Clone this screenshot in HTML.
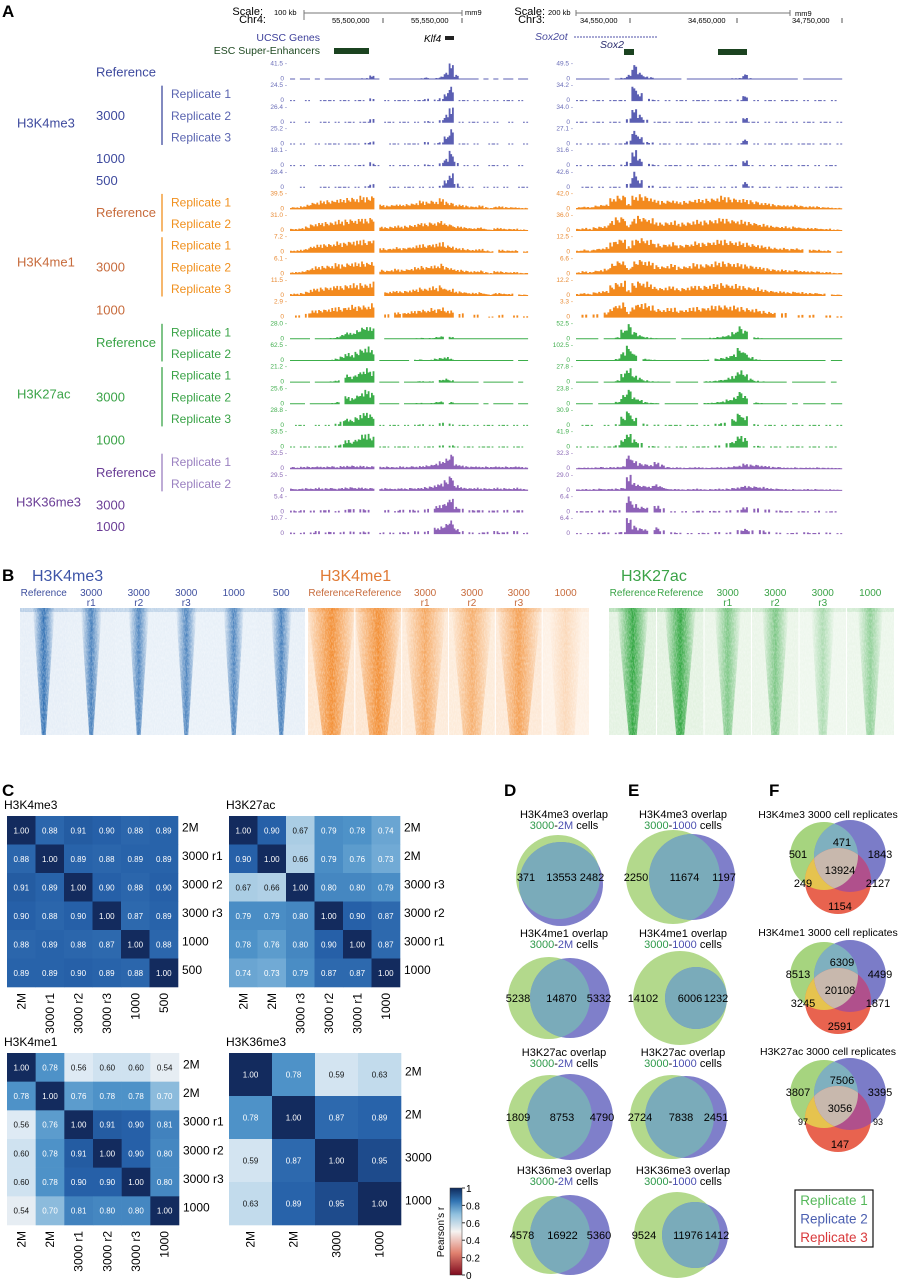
<!DOCTYPE html>
<html><head><meta charset="utf-8">
<style>
html,body{margin:0;padding:0;background:#fff;}
svg{display:block;font-family:"Liberation Sans",Arial,sans-serif;}
</style></head>
<body>
<svg id="fig" width="907" height="1280" viewBox="0 0 907 1280" xmlns="http://www.w3.org/2000/svg">
<defs>
<linearGradient id="cbar" x1="0" y1="1" x2="0" y2="0">
<stop offset="0" stop-color="#7f0a1e"/><stop offset="0.25" stop-color="#e0806e"/><stop offset="0.5" stop-color="#f6f3f1"/><stop offset="0.7" stop-color="#8fc0de"/><stop offset="0.85" stop-color="#3174b3"/><stop offset="1" stop-color="#0f2a5c"/>
</linearGradient>
<filter id="grain" x="0" y="0" width="100%" height="100%">
<feTurbulence type="fractalNoise" baseFrequency="0.9 0.35" numOctaves="2" seed="3" result="n"/>
<feColorMatrix type="matrix" values="0 0 0 0 1  0 0 0 0 1  0 0 0 0 1  0 0 0 -1.6 1.05" in="n"/>
</filter>
</defs>
<g id="static">
<text x="2" y="17" font-size="17" font-weight="bold">A</text>
<text x="2" y="581" font-size="17" font-weight="bold">B</text>
<text x="2" y="796" font-size="17" font-weight="bold">C</text>
<text x="504" y="796" font-size="17" font-weight="bold">D</text>
<text x="628" y="796" font-size="17" font-weight="bold">E</text>
<text x="769" y="796" font-size="17" font-weight="bold">F</text>
<text x="263" y="15" font-size="11" text-anchor="end">Scale:</text>
<text x="266" y="23" font-size="11" text-anchor="end">Chr4:</text>
<text x="274" y="15" font-size="7.5">100 kb</text>
<line x1="304" y1="13" x2="462" y2="13" stroke="#777" stroke-width="1"/>
<line x1="304" y1="10" x2="304" y2="20" stroke="#777"/><line x1="462" y1="10" x2="462" y2="16" stroke="#777"/>
<text x="465" y="15" font-size="7.5">mm9</text>
<text x="332" y="23" font-size="7.5">55,500,000</text>
<line x1="383" y1="18" x2="383" y2="23" stroke="#555"/>
<text x="411" y="23" font-size="7.5">55,550,000</text>
<line x1="462" y1="18" x2="462" y2="23" stroke="#555"/>
<text x="320" y="41" font-size="10.5" fill="#3d3f9a" text-anchor="end">UCSC Genes</text>
<text x="320" y="54" font-size="10.5" fill="#1f4a22" text-anchor="end">ESC Super-Enhancers</text>
<rect x="334" y="48" width="35" height="6" fill="#1b4320"/>
<text x="424" y="42" font-size="10" font-style="italic">Klf4</text>
<rect x="445" y="36" width="9" height="4" fill="#222"/>
<text x="545" y="15" font-size="11" text-anchor="end">Scale:</text>
<text x="545" y="23" font-size="11" text-anchor="end">Chr3:</text>
<text x="548" y="15" font-size="7.5">200 kb</text>
<line x1="576" y1="13" x2="790" y2="13" stroke="#777"/>
<line x1="576" y1="10" x2="576" y2="16" stroke="#777"/><line x1="790" y1="10" x2="790" y2="16" stroke="#777"/>
<text x="795" y="16" font-size="7.5">mm9</text>
<text x="580" y="23" font-size="7.5">34,550,000</text>
<line x1="630" y1="18" x2="630" y2="23" stroke="#555"/>
<text x="688" y="23" font-size="7.5">34,650,000</text>
<line x1="737" y1="18" x2="737" y2="23" stroke="#555"/>
<text x="792" y="23" font-size="7.5">34,750,000</text>
<line x1="842" y1="18" x2="842" y2="23" stroke="#555"/>
<text x="535" y="40" font-size="10.5" font-style="italic" fill="#4a4c9e">Sox2ot</text>
<line x1="574" y1="37" x2="658" y2="37" stroke="#8a8cc6" stroke-width="1.5" stroke-dasharray="2,1"/>
<text x="600" y="48" font-size="10.5" font-style="italic" fill="#2a2c6e">Sox2</text>
<rect x="624" y="49" width="10" height="6" fill="#1b4320"/>
<rect x="718" y="49" width="29" height="6" fill="#1b4320"/>
</g>
<g id="tracks"></g>
<g id="labelsA"></g>
<g id="heat"></g>
<g id="mats"></g>
<g id="venns"></g>
</svg>
<script>
// ---------- Panel A data ----------
const me3L=[.02,0,.02,.03,0,.02,.03,.02,.05,.03,.02,.04,.03,.06,.08,.1,.25,.05,0,.02,.03,.02,.03,.04,.05,.06,.08,.15,.05,.1,.2,.5,1,.3,.05,.02,.03,.02,0,.02,.02,.03,0,.02,.02,0,.02,.01];
const me1L=[.15,.15,.2,.3,.45,.5,.55,.6,.6,.7,.65,.75,.8,.75,.85,.8,.9,0,.3,.25,.3,.35,.3,.35,.4,.45,.55,.5,.6,.55,.7,.5,.45,.3,.3,.25,.2,.2,.25,.15,.1,.2,.2,.15,.15,.15,.1,.1];
const acL=[.05,.04,.05,.04,.04,.05,.06,.05,.08,.15,.3,.5,.4,.6,.8,.9,.75,0,.06,.05,.06,.05,.04,.05,.06,.08,.1,.06,.08,.15,.2,.25,.15,.06,.05,.05,.04,.05,.04,.05,.04,.04,.05,.04,.04,.05,.04,.03];
const me36L=[.15,.12,.15,.18,.15,.2,.15,.18,.2,.15,.2,.22,.25,.2,.22,.18,.2,0,.15,.18,.15,.15,.18,.15,.2,.18,.2,.25,.3,.4,.5,.7,1,.35,.25,.2,.18,.2,.15,.18,.15,.2,.15,.18,.15,.2,.15,.12];
const me3R=[.02,.03,.02,.03,.02,.04,.03,.06,.1,.3,1,.5,.2,.15,.05,.04,.03,.04,.03,.04,.03,.05,.03,.04,.05,.04,.05,.06,.08,.1,.35,.1,.06,.05,.04,.03,.04,.03,.05,.04,.03,.04,.03,.04,.03,.03,.02,.02];
const me1R=[.15,.2,.15,.25,.3,.35,.7,.9,.95,.4,.85,1,.9,.8,.6,.55,.6,.65,.5,.55,.6,.7,.65,.7,.75,.8,.85,.8,.75,.7,.65,.6,.55,.45,.4,.35,.3,.3,.25,.3,.25,.2,.2,.2,.15,.15,.1,.1];
const acR=[.03,.03,.04,.03,.05,.04,.06,.15,.6,1,.5,.3,.15,.1,.08,.06,.05,.05,.06,.05,.05,.06,.07,.08,.1,.15,.2,.3,.45,.85,.6,.25,.12,.08,.06,.05,.05,.04,.05,.04,.04,.05,.04,.04,.03,.03,.03,.03];
const me36R=[.1,.12,.1,.12,.15,.12,.14,.15,.2,1,.55,.4,.35,.3,.45,.3,.15,.12,.12,.1,.12,.14,.12,.1,.12,.14,.12,.15,.2,.25,.35,.3,.3,.25,.2,.15,.15,.12,.1,.12,.1,.12,.1,.12,.1,.1,.08,.08];
const ticksL=["41.5","24.5","26.4","25.2","18.1","28.4","39.5","31.0","7.2","6.1","11.5","2.9","28.0","62.5","21.2","25.6","28.8","33.5","32.5","29.5","5.4","10.7"];
const ticksR=["49.5","34.2","34.0","27.1","31.6","42.6","42.0","36.0","12.5","6.6","12.2","3.3","52.5","102.5","27.8","23.8","30.9","41.9","32.3","29.0","6.4","6.4"];
const rowMark=["me3","me3","me3","me3","me3","me3","me1","me1","me1","me1","me1","me1","ac","ac","ac","ac","ac","ac","me36","me36","me36","me36"];
const rowSparsity=[.1,.35,.35,.35,.4,.4,0,0,.15,.05,.1,.6,.1,.1,.2,.2,.45,.35,.05,.05,.4,.4];
const maskPattern=[.82,.13,.57,.91,.34,.66,.05,.77,.48,.29,.95,.61,.18,.73,.39,.87,.22,.54,.68,.09,.43,.99,.31,.76,.15,.59,.84,.26,.71,.37,.93,.11,.64,.46,.8,.2,.52,.97,.33,.69,.07,.58,.88,.24,.62,.41,.75,.16];
const texture=[1,.7,.9,.55,.95,.75,.6,.9,.8,.65,.85,.6];

const NS="http://www.w3.org/2000/svg";
function el(tag,attrs,parent){const e=document.createElementNS(NS,tag);for(const k in attrs)e.setAttribute(k,attrs[k]);parent.appendChild(e);return e;}
const colors={me3:"#5b5fb3",me1:"#f38a1e",ac:"#3cae4a",me36:"#8e62b8"};
const tickCol={me3:"#6a6db8",me1:"#e88a33",ac:"#3fae4c",me36:"#8a68b5"};
const profs={L:{me3:me3L,me1:me1L,ac:acL,me36:me36L},R:{me3:me3R,me1:me1R,ac:acR,me36:me36R}};
const tracksG=document.getElementById("tracks");
const pitch=21.65;
function drawTrack(side,row){
  const x0=side==="L"?290:576, x1=side==="L"?528:842;
  const mark=rowMark[row]; const prof=profs[side][mark];
  const base=62+pitch*row+17.5;
  const g=el("g",{},tracksG);
  
  
  const bw=(x1-x0)/prof.length, sub=bw/3;
  let d="";
  for(let b=0;b<prof.length;b++){
    if(prof[b]===0) continue;
    const m=maskPattern[(b+row*7)%maskPattern.length];
    const strong=prof[b]>0.3;
    if(!strong && m<rowSparsity[row]) continue;
    for(let k=0;k<3;k++){
      const t=texture[(b*3+k+row)%texture.length];
      let h=Math.max(1,prof[b]*t*16);
      if(!strong && rowSparsity[row]>0.3 && (k===1)) continue;
      const x=x0+b*bw+k*sub;
      d+=`M${x.toFixed(1)} ${base}h${(sub+0.15).toFixed(2)}v${(-h).toFixed(1)}h${(-sub-0.15).toFixed(2)}z`;
    }
  }
  const p=el("path",{d:d,fill:colors[mark]},g);
  
  
  const tx=side==="L"?287:573;
  const ticks=side==="L"?ticksL:ticksR;
  const t1=el("text",{x:tx,y:base-14,"font-size":6.5,"text-anchor":"end",fill:tickCol[mark]},g);
  t1.textContent=ticks[row]+" -";
  
  
  const t0=el("text",{x:tx-3,y:base+1,"font-size":6.5,"text-anchor":"end",fill:tickCol[mark]},g);
  t0.textContent="0";
  
  
}
for(let r=0;r<22;r++){drawTrack("L",r);drawTrack("R",r);}

// left labels
const LA=document.getElementById("labelsA");
const yc=i=>72+pitch*i;
function lab(txt,x,y,col,size,name){const t=el("text",{x:x,y:y+4.5,"font-size":size||13,fill:col},LA);t.textContent=txt;
 
 }
function vline(x,y1,y2,col){const l=el("line",{x1:x,x2:x,y1:y1,y2:y2,stroke:col,"stroke-width":1.3},LA);
 
 }
const B3="#3e4a9e",O1="#c76b3c",O2="#f0901e",G1="#3aa347",P1="#6a3d96",P2="#9a80c0";
lab("H3K4me3",17,123,B3,13,"mark-label-h3k4me3");
lab("Reference",96,yc(0),B3,13,"row-label");
lab("3000",96,yc(2),B3,13,"row-label");vline(162,yc(1)-8,yc(3)+8,B3);
["Replicate 1","Replicate 2","Replicate 3"].forEach((s,i)=>lab(s,171,yc(1+i),"#5a64b0",12,"replicate-label"));
lab("1000",96,yc(4),B3,13,"row-label");lab("500",96,yc(5),B3,13,"row-label");
lab("H3K4me1",17,262,O1,13,"mark-label-h3k4me1");
lab("Reference",96,(yc(6)+yc(7))/2,O1,13,"row-label");vline(162,yc(6)-8,yc(7)+8,O2);
["Replicate 1","Replicate 2"].forEach((s,i)=>lab(s,171,yc(6+i),O2,12,"replicate-label"));
lab("3000",96,yc(9),O1,13,"row-label");vline(162,yc(8)-8,yc(10)+8,O2);
["Replicate 1","Replicate 2","Replicate 3"].forEach((s,i)=>lab(s,171,yc(8+i),O2,12,"replicate-label"));
lab("1000",96,yc(11),O1,13,"row-label");
lab("H3K27ac",17,394,G1,13,"mark-label-h3k27ac");
lab("Reference",96,(yc(12)+yc(13))/2,G1,13,"row-label");vline(162,yc(12)-8,yc(13)+8,G1);
["Replicate 1","Replicate 2"].forEach((s,i)=>lab(s,171,yc(12+i),G1,12,"replicate-label"));
lab("3000",96,yc(15),G1,13,"row-label");vline(162,yc(14)-8,yc(16)+8,G1);
["Replicate 1","Replicate 2","Replicate 3"].forEach((s,i)=>lab(s,171,yc(14+i),G1,12,"replicate-label"));
lab("1000",96,yc(17),G1,13,"row-label");
lab("H3K36me3",16,502,P1,13,"mark-label-h3k36me3");
lab("Reference",96,(yc(18)+yc(19))/2,P1,13,"row-label");vline(162,yc(18)-8,yc(19)+8,P2);
["Replicate 1","Replicate 2"].forEach((s,i)=>lab(s,171,yc(18+i),P2,12,"replicate-label"));
lab("3000",96,yc(20),P1,13,"row-label");lab("1000",96,yc(21),P1,13,"row-label");

// ---------- Panel B ----------
const hmBlueCols=["Reference","3000|r1","3000|r2","3000|r3","1000","500"];
const hmBlueInt=[1,.9,.85,.85,.85,.9];
const hmOrangeCols=["Reference","Reference","3000|r1","3000|r2","3000|r3","1000"];
const hmOrangeInt=[1,1,.7,.65,.8,.25];
const hmGreenCols=["Reference","Reference","3000|r1","3000|r2","3000|r3","1000"];
const hmGreenInt=[1,1,.6,.6,.35,.5];
const H=document.getElementById("heat");
const defs=document.querySelector("defs");
function heatGroup(id,title,titleCol,labCol,cols,ints,x0,x1,bg,fg,topHW,botHW,sep){
  const t=el("text",{x:x0+12,y:581,"font-size":16,fill:titleCol},H);t.textContent=title;
  
  
  const w=(x1-x0)/cols.length, top=608, bot=735;
  cols.forEach((c,i)=>{
    const cx=x0+w*i+w/2, a=ints[i];
    const parts=c.split("|");
    const l1=el("text",{x:cx,y:596,"font-size":10,"text-anchor":"middle",fill:labCol},H);l1.textContent=parts[0];
    
    
    if(parts[1]){const l2=el("text",{x:cx,y:606,"font-size":10,"text-anchor":"middle",fill:labCol},H);l2.textContent=parts[1];
      
      }
    const r=el("rect",{x:x0+w*i,y:top,width:w,height:bot-top,fill:bg,opacity:0.4+0.6*a},H);
    
    
    const gid="hg"+id+i;
    const lg=el("linearGradient",{id:gid,x1:0,y1:0,x2:1,y2:0},defs);
    el("stop",{offset:0,"stop-color":fg,"stop-opacity":0},lg);
    el("stop",{offset:0.5,"stop-color":fg,"stop-opacity":a},lg);
    el("stop",{offset:1,"stop-color":fg,"stop-opacity":0},lg);
    const th=topHW*(0.6+0.4*a), bh=botHW;
    const pg=el("polygon",{points:`${cx-th},${top} ${cx+th},${top} ${cx+bh},${bot} ${cx-bh},${bot}`,fill:`url(#${gid})`},H);
    
    
    const band=el("rect",{x:x0+w*i,y:top,width:w,height:4,fill:fg,opacity:0.25*a},H);
    
    
    if(sep&&i>0){const s=el("line",{x1:x0+w*i,x2:x0+w*i,y1:top,y2:bot,stroke:"#fff","stroke-width":1},H);
      
      }
  });
  const gr=el("rect",{x:x0,y:top,width:x1-x0,height:bot-top,filter:"url(#grain)",opacity:0.45},H);
  
  
}
heatGroup("blue","H3K4me3","#3e55a8","#3e4f9e",hmBlueCols,hmBlueInt,20,305,"#e6eef7","#2f6fb3",11,2,false);
heatGroup("orange","H3K4me1","#e07a35","#c76b3c",hmOrangeCols,hmOrangeInt,308,589,"#fde5cf","#f28c30",24,9,true);
heatGroup("green","H3K27ac","#3aa347","#3aa347",hmGreenCols,hmGreenInt,609,894,"#e3f2e1","#2fa63f",16,4,true);

// ---------- Panel C ----------
const m1Labels=["2M","3000 r1","3000 r2","3000 r3","1000","500"];
const m1Vals=[[1,.88,.91,.90,.88,.89],[.88,1,.89,.88,.89,.89],[.91,.89,1,.90,.88,.90],[.90,.88,.90,1,.87,.89],[.88,.89,.88,.87,1,.88],[.89,.89,.90,.89,.88,1]];
const m2Labels=["2M","2M","3000 r3","3000 r2","3000 r1","1000"];
const m2Vals=[[1,.90,.67,.79,.78,.74],[.90,1,.66,.79,.76,.73],[.67,.66,1,.80,.80,.79],[.79,.79,.80,1,.90,.87],[.78,.76,.80,.90,1,.87],[.74,.73,.79,.87,.87,1]];
const m3Labels=["2M","2M","3000 r1","3000 r2","3000 r3","1000"];
const m3Vals=[[1,.78,.56,.60,.60,.54],[.78,1,.76,.78,.78,.70],[.56,.76,1,.91,.90,.81],[.60,.78,.91,1,.90,.80],[.60,.78,.90,.90,1,.80],[.54,.70,.81,.80,.80,1]];
const m4Labels=["2M","2M","3000","1000"];
const m4Vals=[[1,.78,.59,.63],[.78,1,.87,.89],[.59,.87,1,.95],[.63,.89,.95,1]];
const cmStops=[[0,[127,10,30]],[.25,[224,128,110]],[.5,[246,243,241]],[.56,[222,234,244]],[.62,[200,222,238]],[.67,[170,205,228]],[.72,[120,175,215]],[.78,[78,146,200]],[.84,[52,114,180]],[.9,[38,96,168]],[.95,[30,75,140]],[1,[19,43,94]]];
function cmap(v){for(let i=1;i<cmStops.length;i++){if(v<=cmStops[i][0]){const [a,ca]=cmStops[i-1],[b,cb]=cmStops[i];const t=(v-a)/(b-a);return "rgb("+ca.map((c,j)=>Math.round(c+(cb[j]-c)*t)).join(",")+")";}}return "rgb(19,43,94)";}
const M=document.getElementById("mats");
function matrix(name,title,labels,vals,x0,y0,size){
  const n=labels.length, c=size/n;
  const t=el("text",{x:x0-3,y:y0-7,"font-size":12},M);t.textContent=title;
  
  
  for(let i=0;i<n;i++)for(let j=0;j<n;j++){
    const v=vals[i][j];
    const r=el("rect",{x:x0+j*c,y:y0+i*c,width:c+0.3,height:c+0.3,fill:cmap(v)},M);
    
    
    const tx=el("text",{x:x0+j*c+c/2,y:y0+i*c+c/2+3,"font-size":8,"text-anchor":"middle",fill:v>=0.7?"#fff":"#111"},M);
    tx.textContent=v.toFixed(2);
    
    
  }
  labels.forEach((l,i)=>{
    const rl=el("text",{x:x0+size+4,y:y0+i*c+c/2+1,"font-size":12},M);rl.textContent=l;
    
    
    const cx=x0+i*c+c/2+4, cy=y0+size+6;
    const cl=el("text",{x:cx,y:cy,"font-size":12,"text-anchor":"end",transform:`rotate(-90 ${cx} ${cy})`},M);cl.textContent=l;
    
    
  });
}
matrix("h3k4me3","H3K4me3",m1Labels,m1Vals,7,816,171);
matrix("h3k27ac","H3K27ac",m2Labels,m2Vals,229,816,171);
matrix("h3k4me1","H3K4me1",m3Labels,m3Vals,7,1053,172);
matrix("h3k36me3","H3K36me3",m4Labels,m4Vals,229,1053,172);
const cbTicks=["1","0.8","0.6","0.4","0.2","0"];
const cb=el("rect",{x:450,y:1188,width:12,height:87,fill:"url(#cbar)",stroke:"#333","stroke-width":0.5},M);


cbTicks.forEach((t,i)=>{const y=1188+87*i/5;
  el("line",{x1:462,x2:465,y1:y,y2:y,stroke:"#333"},M);
  const tt=el("text",{x:466,y:y+4,"font-size":10},M);tt.textContent=t;
  
  });
const cbl=el("text",{x:444,y:1232,"font-size":10,"text-anchor":"middle",transform:"rotate(-90 444 1232)"},M);
cbl.textContent="Pearson’s r";



// ---------- Panels D/E/F ----------
const V=document.getElementById("venns");
const pairTitles=["H3K4me3 overlap","H3K4me1 overlap","H3K27ac overlap","H3K36me3 overlap"];
const dCounts=[[371,13553,2482],[5238,14870,5332],[1809,8753,4790],[4578,16922,5360]];
const eCounts=[[2250,11674,1197],[14102,6006,1232],[2724,7838,2451],[9524,11976,1412]];
const dGeom=[[558,877,42,561,884,42],[549,998,41,570,998,40],[550,1117,42,570,1117,43],[551,1235,39,570,1235,40]];
const eGeom=[[673,877,47,692,877,43],[680,998,47,696,998,31],[672,1117,42,686,1117,41],[677,1235,43,695,1235,33]];
const dTitleY=[818,937,1056,1174];
let cid=0;
function pairVenn(name,titleX,titleY,title,sub,counts,g){
  const t=el("text",{x:titleX,y:titleY,"font-size":11,"text-anchor":"middle"},V);t.textContent=title;
  
  
  const s=el("text",{x:titleX,y:titleY+11,"font-size":11,"text-anchor":"middle"},V);
  s.innerHTML=`<tspan fill="#2e9a4a">3000</tspan>-<tspan fill="#4b4fb0">${sub}</tspan> cells`;
  
  
  const [gx,gy,gr,bx,by,br]=g;
  const a=el("circle",{cx:gx,cy:gy,r:gr,fill:"#b3d98c"},V);
  
  
  const b=el("circle",{cx:bx,cy:by,r:br,fill:"#7f7fca"},V);
  
  
  const id="vc"+(cid++);
  const cp=el("clipPath",{id:id},defs);el("circle",{cx:gx,cy:gy,r:gr},cp);
  const o=el("circle",{cx:bx,cy:by,r:br,fill:"#7aabba","clip-path":`url(#${id})`},V);
  
  
  const xs=[Math.min(gx-gr,bx-br)+10,(gx+bx)/2+2,Math.max(gx+gr,bx+br)-11];
  counts.forEach((c,i)=>{const tx=el("text",{x:xs[i],y:gy+4,"font-size":11,"text-anchor":"middle"},V);tx.textContent=c;
    
    });
}
for(let i=0;i<4;i++){
  pairVenn("d"+i,564,dTitleY[i],pairTitles[i],"2M",dCounts[i],dGeom[i]);
  pairVenn("e"+i,683,dTitleY[i],pairTitles[i],"1000",eCounts[i],eGeom[i]);
}
// F triple venns
const fTitles=["H3K4me3 3000 cell replicates","H3K4me1 3000 cell replicates","H3K27ac 3000 cell replicates"];
const fCounts=[[471,501,1843,13924,249,2127,1154],[6309,8513,4499,20108,3245,1871,2591],[7506,3807,3395,3056,97,93,147]];
const fTop=[818,936,1055];
const fCenterY=[866,986,1104];
function tripleVenn(k){
  const cy=fCenterY[k], cx=838;
  const t=el("text",{x:cx-10,y:fTop[k],"font-size":10.5,"text-anchor":"middle"},V);t.textContent=fTitles[k];
  
  
  const C=[[cx-14,cy-10,34,"#a6d47f"],[cx+12,cy-10,36,"#7b7cc8"],[cx,cy+15,33,"#e8634f"]];
  const ids=C.map(c=>{const id="vc"+(cid++);const cp=el("clipPath",{id:id},defs);el("circle",{cx:c[0],cy:c[1],r:c[2]},cp);return id;});
  C.forEach((c,i)=>{const ci=el("circle",{cx:c[0],cy:c[1],r:c[2],fill:c[3]},V);
    
    });
  const pairs=[[0,1,"#7fb0bf"],[0,2,"#e6c34e"],[1,2,"#b0508c"]];
  pairs.forEach(([a,b,col])=>{const o=el("circle",{cx:C[b][0],cy:C[b][1],r:C[b][2],fill:col,"clip-path":`url(#${ids[a]})`},V);
    
    });
  const gg=el("g",{"clip-path":`url(#${ids[0]})`},V);
  const tri=el("circle",{cx:C[2][0],cy:C[2][1],r:C[2][2],fill:"#c8b8ad","clip-path":`url(#${ids[1]})`},gg);
  
  
  const pos=[[cx+4,cy-24],[cx-40,cy-12],[cx+42,cy-12],[cx+2,cy+4],[cx-35,cy+17],[cx+40,cy+17],[cx+2,cy+40]];
  fCounts[k].forEach((c,i)=>{const tx=el("text",{x:pos[i][0],y:pos[i][1]+4,"font-size":(c<100?9:11),"text-anchor":"middle"},V);tx.textContent=c;
    
    });
}
for(let k=0;k<3;k++)tripleVenn(k);
const lg=el("rect",{x:795,y:1190,width:78,height:57,fill:"#fff",stroke:"#111","stroke-width":1.2},V);


[["Replicate 1","#55b85a"],["Replicate 2","#4b5fb0"],["Replicate 3","#d9393b"]].forEach((r,i)=>{
  const t=el("text",{x:834,y:1205+i*18.5,"font-size":13.5,"text-anchor":"middle",fill:r[1]},V);t.textContent=r[0];
  
  });
</script>
</body></html>
